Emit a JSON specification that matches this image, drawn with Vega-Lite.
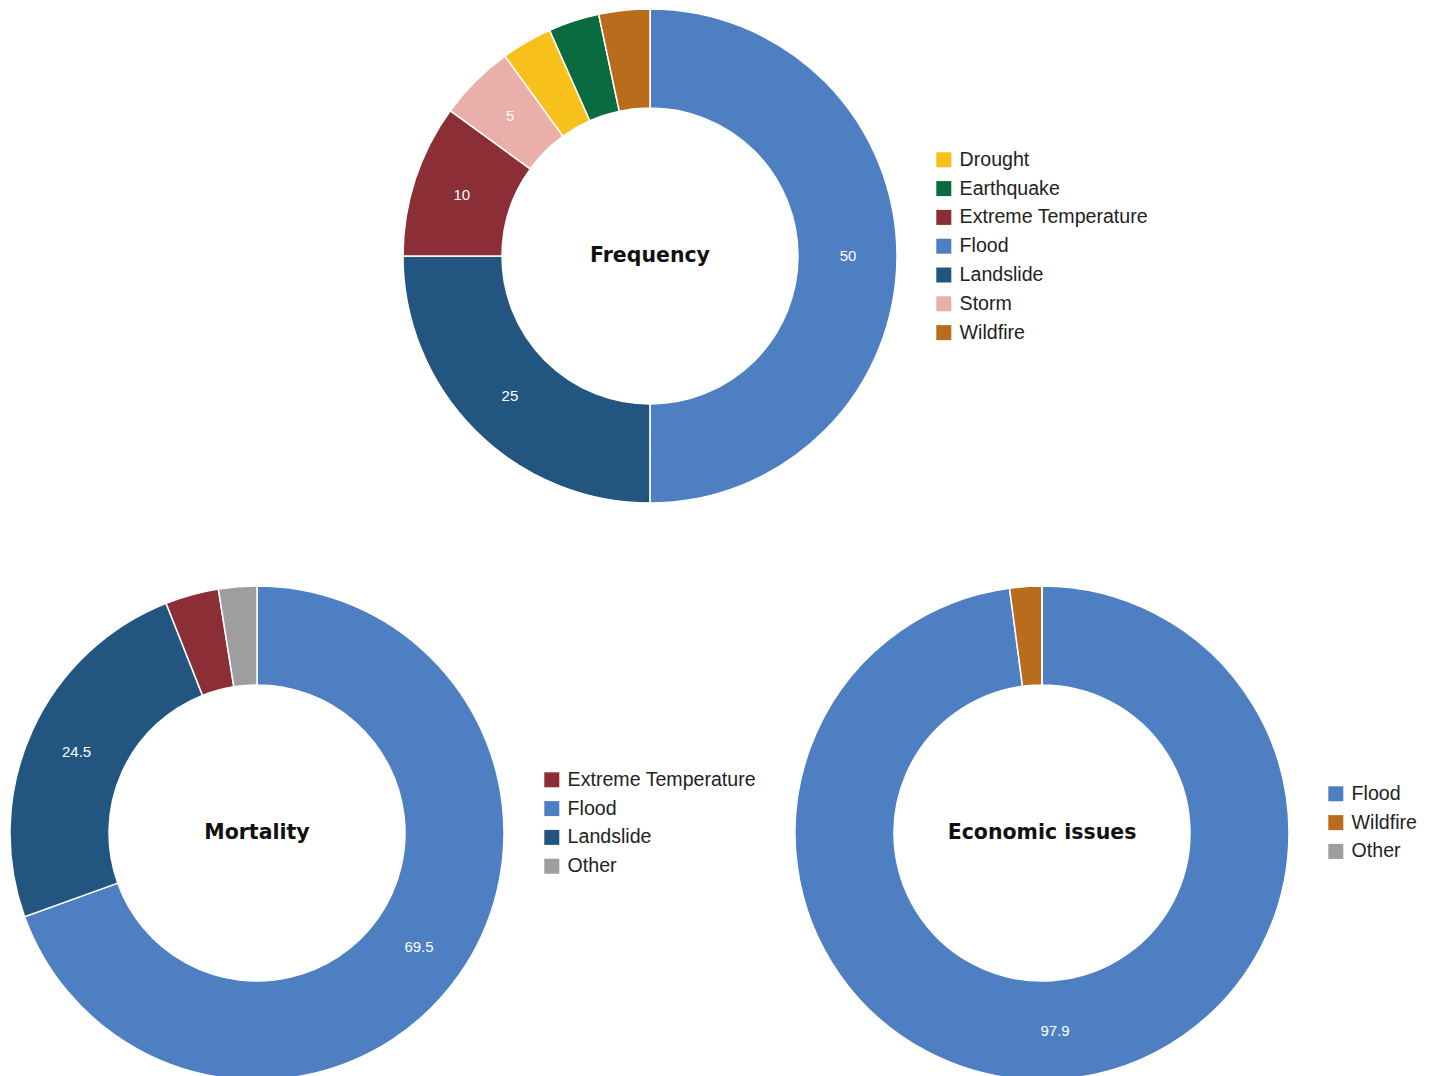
{
  "$schema": "https://vega.github.io/schema/vega-lite/v6.json",
  "background": "white",
  "padding": {"left": 0, "top": 6, "right": 0, "bottom": 0},
  "bounds": "flush",
  "spacing": 83,
  "config": {
    "view": {"stroke": null},
    "legend": {
      "symbolType": "square",
      "symbolSize": 225,
      "symbolStrokeWidth": 0,
      "labelFontSize": 19.6,
      "labelFont": "Liberation Sans",
      "labelColor": "#222222",
      "labelLimit": 0,
      "rowPadding": 7.8,
      "labelOffset": 6
    }
  },
  "datasets": {
    "freq": [
      {"category": "Flood", "value": 50},
      {"category": "Landslide", "value": 25},
      {"category": "Extreme Temperature", "value": 10},
      {"category": "Storm", "value": 5},
      {"category": "Drought", "value": 3.33},
      {"category": "Earthquake", "value": 3.33},
      {"category": "Wildfire", "value": 3.33}
    ],
    "mort": [
      {"category": "Flood", "value": 69.5},
      {"category": "Landslide", "value": 24.5},
      {"category": "Extreme Temperature", "value": 3.5},
      {"category": "Other", "value": 2.5}
    ],
    "econ": [
      {"category": "Flood", "value": 97.9},
      {"category": "Wildfire", "value": 2.1},
      {"category": "Other", "value": 0}
    ]
  },
  "vconcat": [
    {
      "width": 1300,
      "height": 494,
      "data": {"name": "freq"},
      "layer": [
        {
          "mark": {"type": "arc", "innerRadius": 148, "outerRadius": 247, "stroke": "white", "strokeWidth": 1.5},
          "encoding": {
            "theta": {"field": "value", "type": "quantitative", "stack": true},
            "color": {
              "field": "category", "type": "nominal",
              "scale": {
                "domain": ["Drought", "Earthquake", "Extreme Temperature", "Flood", "Landslide", "Storm", "Wildfire"],
                "range": ["#F8C01A", "#0A6B40", "#8B2E35", "#4E7FC2", "#22557F", "#EBAFA9", "#B86C1C"]
              },
              "legend": {"orient": "none", "legendX": 934, "legendY": 141, "title": null}
            },
            "order": {"field": "value", "type": "quantitative", "sort": "descending"}
          }
        },
        {
          "mark": {"type": "text", "radius": 198, "color": "white", "fontSize": 15, "font": "Liberation Sans"},
          "encoding": {
            "theta": {"field": "value", "type": "quantitative", "stack": true},
            "detail": {"field": "category", "type": "nominal"},
            "order": {"field": "value", "type": "quantitative", "sort": "descending"},
            "text": {"condition": {"test": "datum.value >= 5", "field": "value", "type": "nominal"}, "value": ""}
          }
        },
        {
          "data": {"values": [{"title": "Frequency"}]},
          "mark": {"type": "text", "fontSize": 20.5, "fontWeight": "bold", "font": "DejaVu Sans", "color": "#111111"},
          "encoding": {"text": {"field": "title", "type": "nominal"}}
        }
      ]
    },
    {
      "hconcat": [
        {
          "width": 514,
          "height": 494,
          "data": {"name": "mort"},
          "layer": [
            {
              "mark": {"type": "arc", "innerRadius": 148, "outerRadius": 247, "stroke": "white", "strokeWidth": 1.5},
              "encoding": {
                "theta": {"field": "value", "type": "quantitative", "stack": true},
                "color": {
                  "field": "category", "type": "nominal",
                  "scale": {
                    "domain": ["Extreme Temperature", "Flood", "Landslide", "Other"],
                    "range": ["#8B2E35", "#4E7FC2", "#22557F", "#9E9E9E"]
                  },
                  "legend": {"orient": "none", "legendX": 542, "legendY": 184, "title": null}
                },
                "order": {"field": "value", "type": "quantitative", "sort": "descending"}
              }
            },
            {
              "mark": {"type": "text", "radius": 198, "color": "white", "fontSize": 15, "font": "Liberation Sans"},
              "encoding": {
                "theta": {"field": "value", "type": "quantitative", "stack": true},
                "detail": {"field": "category", "type": "nominal"},
                "order": {"field": "value", "type": "quantitative", "sort": "descending"},
                "text": {"condition": {"test": "datum.value >= 5", "field": "value", "type": "nominal"}, "value": ""}
              }
            },
            {
              "data": {"values": [{"title": "Mortality"}]},
              "mark": {"type": "text", "fontSize": 20.5, "fontWeight": "bold", "font": "DejaVu Sans", "color": "#111111"},
              "encoding": {"text": {"field": "title", "type": "nominal"}}
            }
          ]
        },
        {
          "width": 494,
          "height": 494,
          "data": {"name": "econ"},
          "layer": [
            {
              "mark": {"type": "arc", "innerRadius": 148, "outerRadius": 247, "stroke": "white", "strokeWidth": 1.5},
              "encoding": {
                "theta": {"field": "value", "type": "quantitative", "stack": true},
                "color": {
                  "field": "category", "type": "nominal",
                  "scale": {
                    "domain": ["Flood", "Wildfire", "Other"],
                    "range": ["#4E7FC2", "#B86C1C", "#9E9E9E"]
                  },
                  "legend": {"orient": "none", "legendX": 531, "legendY": 198, "title": null}
                },
                "order": {"field": "value", "type": "quantitative", "sort": "descending"}
              }
            },
            {
              "mark": {"type": "text", "radius": 198, "color": "white", "fontSize": 15, "font": "Liberation Sans"},
              "encoding": {
                "theta": {"field": "value", "type": "quantitative", "stack": true},
                "detail": {"field": "category", "type": "nominal"},
                "order": {"field": "value", "type": "quantitative", "sort": "descending"},
                "text": {"condition": {"test": "datum.value >= 5", "field": "value", "type": "nominal"}, "value": ""}
              }
            },
            {
              "data": {"values": [{"title": "Economic issues"}]},
              "mark": {"type": "text", "fontSize": 20.5, "fontWeight": "bold", "font": "DejaVu Sans", "color": "#111111"},
              "encoding": {"text": {"field": "title", "type": "nominal"}}
            }
          ]
        }
      ],
      "spacing": 281,
      "bounds": "flush",
      "resolve": {"scale": {"color": "independent"}, "legend": {"color": "independent"}}
    }
  ],
  "resolve": {"scale": {"color": "independent"}, "legend": {"color": "independent"}}
}
